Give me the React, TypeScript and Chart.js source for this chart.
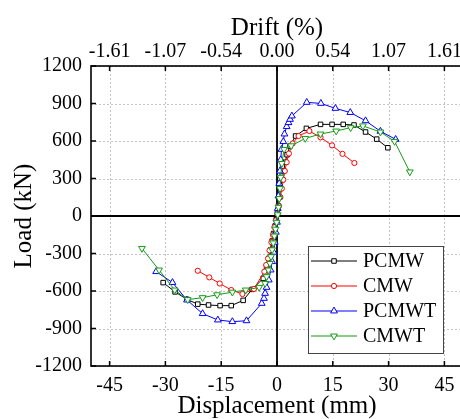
import React, { useEffect, useRef } from 'react';
import { Chart, registerables } from 'chart.js';
import { drawPoint } from 'chart.js/helpers';

Chart.register(...registerables);

const xTicks = [-45, -30, -15, 0, 15, 30, 45];
const driftLabels = ['-1.61', '-1.07', '-0.54', '0.00', '0.54', '1.07', '1.61'];
const yTicks = [-1200, -900, -600, -300, 0, 300, 600, 900, 1200];

const seriesNames = ['PCMW', 'CMW', 'PCMWT', 'CMWT'];

const pcmwX = [-30.6, -27.4, -24.2, -21.3, -18.4, -15.3, -12.3, -9.1, -6.7, -3.7, -2.8, -2.2, -1.7, -1.3, -0.9, -0.5, -0.2, 0.1, 0.4, 0.7, 1.0, 1.4, 1.8, 2.2, 2.7, 3.5, 5.0, 7.9, 11.7, 14.8, 17.8, 20.7, 23.8, 26.8, 29.8];
const pcmwY = [-533, -607, -667, -705, -712, -717, -717, -675, -587, -499, -411, -340, -270, -200, -140, -80, -30, 20, 80, 150, 220, 290, 360, 430, 490, 560, 640, 701, 733, 733, 733, 728, 672, 615, 546];

const cmwX = [-21.3, -18.2, -15.4, -12.3, -9.3, -6.2, -3.4, -2.9, -2.4, -2.0, -1.5, -1.1, -0.7, -0.3, 0.1, 0.5, 0.9, 1.3, 1.7, 2.1, 2.6, 3.2, 4.2, 5.8, 8.7, 11.7, 14.8, 17.6, 20.8];
const cmwY = [-438, -491, -540, -592, -624, -584, -445, -392, -340, -275, -210, -150, -90, -35, 20, 80, 150, 220, 290, 360, 430, 500, 580, 640, 680, 629, 565, 497, 424];

const pcmwtX = [-32.5, -28.1, -24.2, -20.0, -15.9, -12.0, -8.2, -4.1, -3.5, -3.2, -2.8, -2.2, -1.7, -1.3, -0.9, -0.6, -0.3, 0.0, 0.2, 0.4, 0.6, 0.8, 1.0, 1.2, 1.7, 2.0, 2.6, 3.1, 3.5, 4.0, 8.0, 11.8, 15.7, 19.7, 23.8, 27.8, 31.9];
const pcmwtY = [-445, -532, -672, -781, -832, -845, -838, -699, -659, -619, -571, -512, -432, -365, -290, -210, -130, -50, 60, 160, 260, 360, 450, 533, 595, 656, 715, 747, 773, 800, 909, 901, 861, 828, 762, 678, 613];

const cmwtX = [-36.3, -31.7, -27.5, -24.0, -20.0, -16.1, -12.0, -8.4, -4.8, -3.2, -2.8, -2.3, -1.9, -1.6, -1.3, -1.0, -0.7, -0.4, -0.1, 0.2, 0.4, 0.6, 0.8, 1.0, 1.3, 1.9, 3.8, 7.6, 11.7, 15.9, 19.8, 23.1, 27.8, 31.6, 35.7];
const cmwtY = [-259, -432, -592, -669, -653, -630, -609, -592, -571, -539, -485, -432, -379, -325, -270, -215, -160, -105, -50, 10, 70, 140, 220, 310, 420, 533, 562, 621, 656, 680, 707, 721, 672, 597, 353];

const colors = ['#000000', '#ff0000', '#0000ff', '#159a15'];
const styles = ['rect', 'circle', 'triangle', 'triangle'];
const rotations = [0, 0, 0, 180];
const radii = [3.2, 2.6, 3.9, 3.9];
const orders = [3, 2, 1, 0];

const seriesX = [pcmwX, cmwX, pcmwtX, cmwtX];
const seriesY = [pcmwY, cmwY, pcmwtY, cmwtY];

const FONT = "'Liberation Serif', 'Times New Roman', serif";

const framePlugin = {
  id: 'frame',
  beforeDatasetsDraw(chart: any) {
    const { ctx, chartArea: a, scales } = chart;
    const xs = scales.x;
    const ys = scales.y;
    ctx.save();
    ctx.strokeStyle = '#c4c4c4';
    ctx.lineWidth = 1;
    ctx.setLineDash([2, 2]);
    xTicks.forEach((v) => {
      const px = Math.round(xs.getPixelForValue(v)) + 0.5;
      ctx.beginPath();
      ctx.moveTo(px, a.top);
      ctx.lineTo(px, a.bottom);
      ctx.stroke();
    });
    yTicks.forEach((v) => {
      const py = Math.round(ys.getPixelForValue(v)) + 0.5;
      ctx.beginPath();
      ctx.moveTo(a.left, py);
      ctx.lineTo(a.right, py);
      ctx.stroke();
    });
    ctx.setLineDash([]);
    ctx.strokeStyle = '#000';
    ctx.lineWidth = 1.8;
    const x0 = xs.getPixelForValue(0);
    const y0 = ys.getPixelForValue(0);
    ctx.beginPath();
    ctx.moveTo(x0, a.top);
    ctx.lineTo(x0, a.bottom);
    ctx.moveTo(a.left, y0);
    ctx.lineTo(a.right, y0);
    ctx.stroke();
    ctx.lineWidth = 1.6;
    ctx.strokeRect(a.left, a.top, a.right - a.left, a.bottom - a.top);
    const tl = 5;
    ctx.lineWidth = 1.5;
    ctx.beginPath();
    xTicks.forEach((v) => {
      const px = xs.getPixelForValue(v);
      ctx.moveTo(px, a.bottom);
      ctx.lineTo(px, a.bottom - tl);
      ctx.moveTo(px, a.top);
      ctx.lineTo(px, a.top + tl);
    });
    yTicks.forEach((v) => {
      const py = ys.getPixelForValue(v);
      ctx.moveTo(a.left, py);
      ctx.lineTo(a.left + tl, py);
    });
    ctx.stroke();
    ctx.restore();
  },
};

const legendPlugin = {
  id: 'boxLegend',
  afterDatasetsDraw(chart: any) {
    const { ctx } = chart;
    const bx = 308, by = 246, bw = 135, bh = 107;
    ctx.save();
    ctx.fillStyle = '#fff';
    ctx.fillRect(bx, by, bw, bh);
    ctx.strokeStyle = '#444';
    ctx.lineWidth = 1;
    ctx.strokeRect(bx + 0.5, by + 0.5, bw, bh);
    const rowY = [261, 286, 311, 336];
    chart.data.datasets.forEach((ds: any, i: number) => {
      const y = rowY[i];
      ctx.strokeStyle = ds.borderColor;
      ctx.lineWidth = 1.2;
      ctx.beginPath();
      ctx.moveTo(311, y);
      ctx.lineTo(357, y);
      ctx.stroke();
      ctx.fillStyle = '#fff';
      ctx.strokeStyle = ds.borderColor;
      ctx.lineWidth = 1;
      drawPoint(ctx, { pointStyle: ds.pointStyle, rotation: ds.pointRotation, radius: ds.pointRadius, borderWidth: 1 } as any, 334, y);
      ctx.fillStyle = '#000';
      ctx.font = `20px ${FONT}`;
      ctx.textBaseline = 'middle';
      ctx.textAlign = 'left';
      ctx.fillText(ds.label, 363, y + 1);
    });
    ctx.restore();
  },
};

export default function App() {
  const ref = useRef<HTMLCanvasElement | null>(null);
  useEffect(() => {
    if (!ref.current) return;
    const datasets = seriesNames.map((name, i) => ({
      label: name,
      data: seriesX[i].map((x, j) => ({ x, y: seriesY[i][j] })),
      borderColor: colors[i],
      backgroundColor: '#fff',
      pointBackgroundColor: '#fff',
      pointBorderColor: colors[i],
      pointStyle: styles[i],
      pointRotation: rotations[i],
      pointRadius: radii[i],
      pointBorderWidth: 1,
      borderWidth: 1,
      showLine: true,
      fill: false,
      tension: 0,
      order: orders[i],
    }));
    const tickFont = { family: FONT, size: 20 };
    const titleFont = { family: FONT, size: 25 };
    const chart = new Chart(ref.current, {
      type: 'scatter',
      data: { datasets },
      options: {
        animation: false,
        responsive: false,
        devicePixelRatio: 1,
        layout: { padding: { left: 0, top: 0, right: 7, bottom: 0 } },
        plugins: { legend: { display: false }, tooltip: { enabled: false } },
        scales: {
          x: {
            type: 'linear',
            position: 'bottom',
            min: -50,
            max: 50,
            afterBuildTicks: (s: any) => { s.ticks = xTicks.map((v) => ({ value: v })); },
            afterFit: (s: any) => { s.height = 53; },
            ticks: { font: tickFont, color: '#000', padding: 0, maxRotation: 0, autoSkip: false, callback: (v: any) => String(v) },
            grid: { display: false },
            border: { display: false },
            title: { display: true, text: 'Displacement (mm)', font: titleFont, color: '#000', padding: { top: 0, bottom: -2 } },
          },
          x2: {
            type: 'linear',
            position: 'top',
            min: -50,
            max: 50,
            afterBuildTicks: (s: any) => { s.ticks = xTicks.map((v) => ({ value: v })); },
            afterFit: (s: any) => { s.height = 66; },
            ticks: { font: tickFont, color: '#000', padding: -6, maxRotation: 0, autoSkip: false, callback: (v: any) => { const k = xTicks.indexOf(Number(v)); return k >= 0 ? driftLabels[k] : ''; } },
            grid: { display: false },
            border: { display: false },
            title: { display: true, text: 'Drift (%)', font: titleFont, color: '#000', padding: { top: 13, bottom: 0 } },
          },
          y: {
            type: 'linear',
            position: 'left',
            min: -1200,
            max: 1200,
            afterBuildTicks: (s: any) => { s.ticks = yTicks.map((v) => ({ value: v })); },
            afterFit: (s: any) => { s.width = 91; },
            ticks: { font: tickFont, color: '#000', padding: 1, autoSkip: false, callback: (v: any) => String(v) },
            grid: { display: false },
            border: { display: false },
            title: { display: true, text: 'Load (kN)', font: titleFont, color: '#000', padding: { top: 9, bottom: 0 } },
          },
        },
      } as any,
      plugins: [framePlugin, legendPlugin],
    });
    return () => chart.destroy();
  }, []);
  return (
    <div style={{ position: 'absolute', left: 0, top: 0, width: 460, height: 419, overflow: 'hidden', background: '#fff' }}>
      <canvas ref={ref} width={470} height={419} style={{ display: 'block', width: 470, height: 419 }} />
    </div>
  );
}
